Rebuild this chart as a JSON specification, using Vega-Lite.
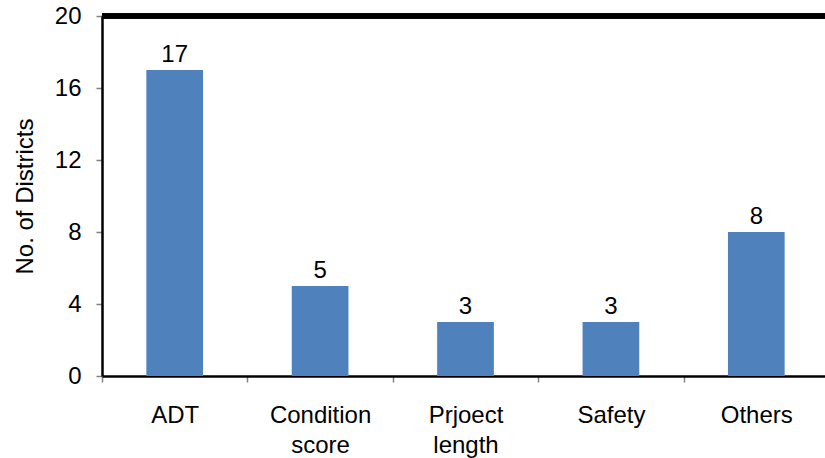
{
  "$schema": "https://vega.github.io/schema/vega-lite/v6.json",
  "autosize": {"type": "none"},
  "padding": {"left": 102, "top": 16, "right": 0, "bottom": 82},
  "width": 727,
  "height": 360,
  "background": "white",
  "config": {
    "view": {"stroke": null},
    "font": "Liberation Sans",
    "axis": {"grid": false, "labelFont": "Liberation Sans", "titleFont": "Liberation Sans"}
  },
  "data": {
    "values": [
      {"factor": "ADT", "districts": 17},
      {"factor": "Condition score", "districts": 5},
      {"factor": "Prjoect length", "districts": 3},
      {"factor": "Safety", "districts": 3},
      {"factor": "Others", "districts": 8}
    ]
  },
  "layer": [
    {
      "mark": {"type": "bar", "color": "#4F81BD", "width": {"band": 0.39}},
      "encoding": {
        "x": {
          "field": "factor",
          "type": "nominal",
          "sort": null,
          "scale": {"paddingInner": 0, "paddingOuter": 0},
          "axis": {
            "title": null,
            "labelAngle": 0,
            "labelExpr": "split(datum.label, ' ')",
            "labelLineHeight": 30,
            "labelFontSize": 24,
            "labelColor": "#000000",
            "labelPadding": 21,
            "labelBaseline": "top",
            "tickBand": "extent",
            "tickColor": "#808080",
            "tickWidth": 1.5,
            "tickSize": 6,
            "domainColor": "#000000",
            "domainWidth": 2.5
          }
        },
        "y": {
          "field": "districts",
          "type": "quantitative",
          "scale": {"domain": [0, 20]},
          "axis": {
            "values": [0, 4, 8, 12, 16, 20],
            "title": "No. of Districts",
            "titleFontSize": 24,
            "titleFontWeight": "normal",
            "titleColor": "#000000",
            "titleX": -77,
            "titleY": 180,
            "titleAngle": -90,
            "titleBaseline": "middle",
            "titleAlign": "center",
            "labelFontSize": 24,
            "labelColor": "#000000",
            "labelPadding": 15,
            "tickColor": "#808080",
            "tickWidth": 1.5,
            "tickSize": 6,
            "domainColor": "#000000",
            "domainWidth": 2.5
          }
        }
      }
    },
    {
      "mark": {"type": "text", "fontSize": 24, "color": "#000000", "baseline": "alphabetic", "dy": -8},
      "encoding": {
        "x": {"field": "factor", "type": "nominal", "sort": null},
        "y": {"field": "districts", "type": "quantitative"},
        "text": {"field": "districts", "type": "quantitative"}
      }
    },
    {
      "mark": {"type": "rule", "color": "#000000", "strokeWidth": 5},
      "encoding": {"y": {"datum": 20}}
    }
  ]
}
